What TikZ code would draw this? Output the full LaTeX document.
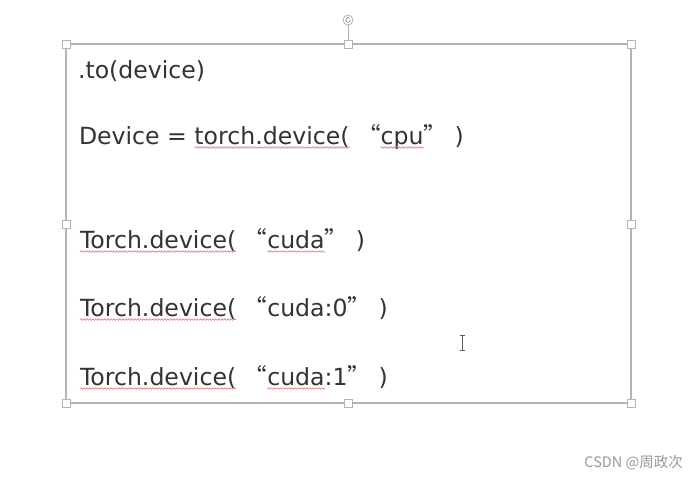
\documentclass[tikz,border=0pt]{standalone}
\usepackage{fontspec}
\usetikzlibrary{decorations.pathmorphing,arrows.meta}
\newfontfamily\mainf{DejaVu Sans}
\newfontfamily\cjk{Noto Sans CJK SC}
\definecolor{textgray}{HTML}{333333}
\definecolor{boxgray}{HTML}{B4B4B4}
\definecolor{wavered}{HTML}{E07070}
\tikzset{
  txt/.style={inner sep=0pt, outer sep=0pt, anchor=base west, text=textgray,
    font=\mainf\fontsize{23.6}{28}\selectfont},
  wave/.style={draw=wavered, line width=0.6pt, decorate,
    decoration={snake, segment length=3pt, amplitude=0.8pt}},
  handle/.style={draw=boxgray, fill=white, line width=0.8pt, minimum size=8pt,
    inner sep=0pt, outer sep=0pt, rectangle},
}
\newcommand{\wv}[1]{\draw[wave] ([yshift=-3.5pt]#1.base west) -- ([yshift=-3.5pt]#1.base east);}
\begin{document}
\begin{tikzpicture}[x=1pt,y=-1pt]
\useasboundingbox (0,0) rectangle (698,479);
\fill[white] (0,0) rectangle (698,479);
% frame
\draw[boxgray, line width=1.1pt] (66,44) rectangle (631,403);
\draw[boxgray, line width=0.8pt] (348,25) -- (348,40);
\node[circle, draw=boxgray, fill=white, line width=0.8pt, minimum size=10pt, inner sep=0pt] (rot) at (348,20) {};
\draw[gray, line width=0.6pt, -{Stealth[length=1.2pt,width=1.8pt]}] ([shift={(2.3pt,0pt)}]rot.center) arc[start angle=0, end angle=-290, radius=2.3pt];
\foreach \p/\n in {{66,44}/h1,{348,44}/h2,{631,44}/h3,{66,224}/h4,{631,224}/h5,{66,403}/h6,{348,403}/h7,{631,403}/h8}
  \node[handle] (\n) at (\p) {};
% line 1
\node[txt] (l1) at (78,78) {.to(device)};
% line 2
\node[txt] (l2a) at (79,144) {Device =\ \kern0pt};
\node[txt] (l2b) at (l2a.base east) {torch.device(};
\node[txt] (l2c) at (l2b.base east) {\ {\cjk “}};
\node[txt] (l2d) at (l2c.base east) {cpu};
\node[txt] (l2e) at (l2d.base east) {{\cjk ”}\ )};
\wv{l2b}\wv{l2d}
% line 3
\node[txt] (l3a) at (80,248) {Torch.device(};
\node[txt] (l3b) at (l3a.base east) {\ {\cjk “}};
\node[txt] (l3c) at (l3b.base east) {cuda};
\node[txt] (l3d) at (l3c.base east) {{\cjk ”}\ )};
\wv{l3a}\wv{l3c}
% line 4
\node[txt] (l4a) at (80,316) {Torch.device(};
\node[txt] (l4b) at (l4a.base east) {\ {\cjk “}cuda:0{\cjk ”}\ )};
\wv{l4a}
% line 5
\node[txt] (l5a) at (80,385) {Torch.device(};
\node[txt] (l5b) at (l5a.base east) {\ {\cjk “}};
\node[txt] (l5c) at (l5b.base east) {cuda};
\node[txt] (l5d) at (l5c.base east) {:1{\cjk ”}\ )};
\wv{l5a}\wv{l5c}
% text cursor
\draw[textgray!80, line width=0.8pt] (462,336) -- (462,350);
\draw[textgray!80, line width=0.7pt] (459.5,335.5) -- (464.5,335.5) (459.5,350.5) -- (464.5,350.5);
% watermark
\node[anchor=base east, inner sep=0pt, text=gray!80, font=\cjk\fontsize{14.5}{17}\selectfont] (wm) at (683,467) {CSDN @周政次};
\end{tikzpicture}
\end{document}
